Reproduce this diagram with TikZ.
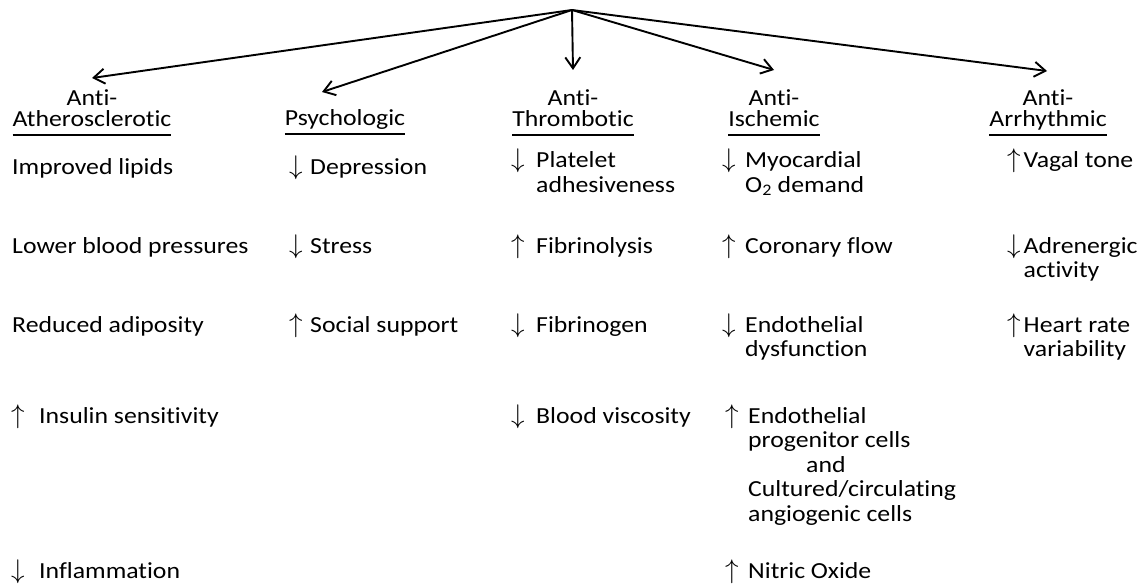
\RequirePackage{fix-cm}
\documentclass[tikz,border=0pt]{standalone}
\usepackage{fontspec}
\setmainfont{Carlito}[FakeStretch=1.12,Ligatures=NoCommon]
\usetikzlibrary{arrows.meta}
\newcommand{\up}{{\fontsize{27}{27}\selectfont$\uparrow$}}
\newcommand{\dn}{{\fontsize{27}{27}\selectfont$\downarrow$}}
\newcommand{\chg}[3][7pt]{#2\hspace{#1}\begin{tabular}[t]{@{}l@{}}#3\end{tabular}}
\newcommand{\hdl}[1]{\setbox0\hbox{#1}\rlap{\rule[-9.5pt]{\wd0}{1.6pt}}\box0}
\begin{document}
\begin{tikzpicture}[x=1pt,y=-1pt,
  every node/.style={inner sep=0pt, font=\fontsize{23}{24.5}\selectfont},
  cat/.style={anchor=north, align=center, font=\fontsize{23}{21}\selectfont},
  effect/.style={anchor=base west, align=left},
  link/.style={-{Straight Barb[length=11pt,width=15pt]}, line width=1.9pt}]
\useasboundingbox (0,0) rectangle (1139,585);
\coordinate(top) at (572,10);

\node(ather) at (92,89) [cat]{Anti-\\\hdl{Atherosclerotic}};
\node(psy) at (345,109) [cat]{\hdl{Psychologic}};
\node(thromb) at (573,89) [cat]{Anti-\\\hdl{Thrombotic}};
\node(isch) at (774,89) [cat]{Anti-\\\hdl{Ischemic}};
\node(arrh) at (1048,89) [cat]{Anti-\\\hdl{Arrhythmic}};

\draw [link] (top) -- ([yshift=11pt]ather.north);
\draw [link] (top) -- ([xshift=-23pt,yshift=17pt]psy.north);
\draw [link] (top) -- ([yshift=19pt]thromb.north);
\draw [link] (top) -- ([yshift=19pt]isch.north);
\draw [link] (top) -- ([xshift=-1pt,yshift=18pt]arrh.north);

% anti-atherosclerotic
\node(lipid) at (12,175) [effect]{Improved lipids};
\node(bp) at (12,253) [effect]{Lower blood pressures};
\node(adipo) at (12,332) [effect]{Reduced adiposity};
\node(insulin) at (11,423) [effect]{\chg[14.5pt]{\up}{Insulin sensitivity}};
\node(inflam) at (11,578) [effect]{\chg[14.5pt]{\dn}{Inflammation}};

% psychologic
\node(depr) at (289,175) [effect]{\chg[7.5pt]{\dn}{Depression}};
\node(stress) at (289,253) [effect]{\chg[7.5pt]{\dn}{Stress}};
\node(social) at (289,332) [effect]{\chg[7.5pt]{\up}{Social support}};

% anti-thrombotic
\node(plate) at (511,168) [effect]{\chg[11.5pt]{\dn}{Platelet\\adhesiveness}};
\node(fibrl) at (511,253) [effect]{\chg[11.5pt]{\up}{Fibrinolysis}};
\node(fibrg) at (511,332) [effect]{\chg[11.5pt]{\dn}{Fibrinogen}};
\node(visc) at (511,423) [effect]{\chg[11.5pt]{\dn}{Blood viscosity}};

% anti-ischemic
\node(myo) at (722,168) [effect]{\chg[9.5pt]{\dn}{Myocardial\\O\textsubscript{2} demand}};
\node(coron) at (722,253) [effect]{\chg[9.5pt]{\up}{Coronary flow}};
\node(endo) at (722,332) [effect]{\chg[9.5pt]{\dn}{Endothelial\\dysfunction}};
\node(progen) at (725,423) [effect]{\chg[9.5pt]{\up}{Endothelial\\progenitor cells\\\hspace*{58pt}and\\Cultured/circulating\\angiogenic cells}};
\node(nitric) at (725,578) [effect]{\chg[9.5pt]{\up}{Nitric Oxide}};

% anti-arrhythmic
\node(vagal) at (1007,168) [effect]{\chg[3pt]{\up}{Vagal tone}};
\node(adren) at (1007,253) [effect]{\chg[3pt]{\dn}{Adrenergic\\activity}};
\node(hrv) at (1007,332) [effect]{\chg[3pt]{\up}{Heart rate\\variability}};

\end{tikzpicture}
\end{document}
